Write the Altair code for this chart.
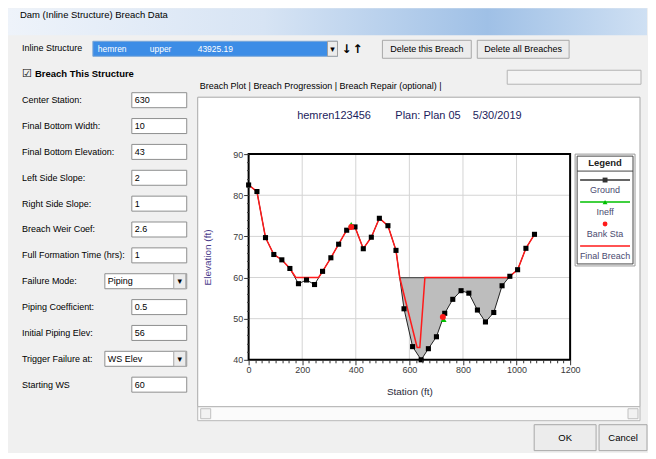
import altair as alt
import numpy as np
import pandas as pd

# ---------------- data ----------------
ground_station = [0, 31, 63, 94, 124, 154, 186, 216, 246, 276, 307, 336, 366, 397,
                  428, 458, 488, 520, 550, 580, 612, 644, 671, 701, 732, 762, 793,
                  822, 854, 884, 915, 946, 975, 1004, 1035, 1067]
ground_elev = [82.5, 80.9, 69.7, 65.6, 64.3, 62.2, 58.5, 59.4, 58.3, 61.5, 64.8, 68.1,
               71.5, 72.3, 67.0, 69.8, 74.4, 72.6, 66.6, 52.4, 43.2, 40.0, 42.7, 45.6,
               51.3, 54.7, 56.8, 56.2, 52.1, 49.2, 51.5, 58.0, 60.3, 61.9, 67.1, 70.5]

breach_station = [0, 31, 63, 94, 124, 154, 176, 261, 276, 307, 336, 366, 397, 428, 458,
                  488, 520, 550, 564, 629, 639, 658, 970, 975, 1004, 1035, 1067]
breach_elev = [82.5, 80.9, 69.7, 65.6, 64.3, 62.2, 60, 60, 61.5, 64.8, 68.1, 71.5, 72.3,
               67.0, 69.8, 74.4, 72.6, 66.6, 60, 43, 43, 60, 60, 60.3, 61.9, 67.1, 70.5]

bank_station = [383, 725]
bank_elev = [72.3, 50.4]
ineff_station = [383, 728]
ineff_elev = [72.9, 49.8]

weir_elev = 60          # starting WS / top of breach opening
fill_from_station = 500  # the shaded opening lies right of this station

x_ticks = list(range(0, 1201, 25))
y_ticks = list(range(40, 91, 2))
x_grid = [200, 400, 600, 800, 1000]
y_grid = [50, 60, 70, 80]

legend_names = ["Ground", "Ineff", "Bank Sta", "Final Breach"]

form_labels = ["Center Station:", "Final Bottom Width:", "Final Bottom Elevation:",
               "Left Side Slope:", "Right Side Slope:", "Breach Weir Coef:",
               "Full Formation Time (hrs):", "Failure Mode:", "Piping Coefficient:",
               "Initial Piping Elev:", "Trigger Failure at:", "Starting WS"]
form_values = ["630", "10", "43", "2", "1", "2.6", "1", "Piping", "0.5", "56",
               "WS Elev", "60"]
form_kinds = ["text", "text", "text", "text", "text", "text", "text", "dropdown",
              "text", "text", "dropdown", "text"]

plot_title = "hemren123456" + "\u00a0" * 8 + "Plan: Plan 05" + "\u00a0" * 4 + "5/30/2019"

# ---------------- styles ----------------
UI = "Liberation Sans, Arial, sans-serif"
RED = "#ff1a1a"
GREEN = "#00c000"
ONE = pd.DataFrame({"k": [0]})


def txt(x, y, s, size=9, weight="normal", color="black", align="left", font=UI):
    return alt.Chart(ONE).mark_text(text=s, fontSize=size, fontWeight=weight, color=color,
                                    align=align, baseline="middle", font=font).encode(
        x=alt.value(x), y=alt.value(y))


def box(x1, y1, x2, y2, fill="white", stroke="#a0a0a0", sw=1, fill_opacity=1):
    return alt.Chart(ONE).mark_rect(fill=fill, stroke=stroke, strokeWidth=sw,
                                    fillOpacity=fill_opacity).encode(
        x=alt.value(x1), x2=alt.value(x2), y=alt.value(y1), y2=alt.value(y2))


# ---------------- header ----------------
titlebar_fill = alt.Gradient(gradient="linear", x1=0, x2=1, y1=0, y2=0, stops=[
    alt.GradientStop(color="#eef3fa", offset=0),
    alt.GradientStop(color="#d7e4f4", offset=0.4),
    alt.GradientStop(color="#9fc0e6", offset=0.75),
    alt.GradientStop(color="#cfe0f3", offset=1)])
header = alt.layer(
    alt.Chart(ONE).mark_rect(fill=titlebar_fill).encode(
        x=alt.value(0), x2=alt.value(640), y=alt.value(0), y2=alt.value(27)),
    txt(12, 7, "Dam (Inline Structure) Breach Data", size=9.5),
    txt(14, 40, "Inline Structure", size=9),
    box(85, 33, 330, 48, fill="#3d8de6", stroke="#7aa7d8"),
    txt(90, 40.5, "hemren", size=8.5, color="white"),
    txt(142, 40.5, "upper", size=8.5, color="white"),
    txt(190, 40.5, "43925.19", size=8.5, color="white"),
    box(320, 33, 330, 48, fill="#ececec", stroke="#a0a0a0"),
    txt(325, 41, "\u25be", size=9, align="center", font="DejaVu Sans"),
    txt(339, 41, "\u2193", size=12, weight="bold", align="center", font="DejaVu Sans"),
    txt(350, 41, "\u2191", size=12, weight="bold", align="center", font="DejaVu Sans"),
    box(375, 32, 464, 50, fill="#ececec", stroke="#a8a8a8"),
    txt(419.5, 41, "Delete this Breach", size=9, align="center"),
    box(470, 32, 562, 50, fill="#ececec", stroke="#a8a8a8"),
    txt(516, 41, "Delete all Breaches", size=9, align="center"),
    box(500, 62, 634, 76, fill="#f4f4f4", stroke="#b4b4b4"),
    txt(14, 66, "\u2611", size=11, font="DejaVu Sans"),
    txt(27, 66, "Breach This Structure", size=9.5, weight="bold"),
    txt(192, 77.5, "Breach Plot | Breach Progression | Breach Repair (optional) |", size=9),
).properties(width=640, height=83)

# ---------------- form ----------------
# the form rows start above the panel's own origin, which is aligned with the plot area
form_df = pd.DataFrame({"label": form_labels, "value": form_values, "kind": form_kinds,
                        "row": list(range(len(form_labels)))})
fy = alt.Scale(domain=[2.085, 11.853], reverse=True, nice=False, zero=False)
FY = alt.Y("row:Q", scale=fy, axis=None)
fbase = alt.Chart(form_df).transform_calculate(lo="datum.row - 0.29", hi="datum.row + 0.29")
form = alt.layer(
    fbase.mark_text(align="left", baseline="middle", fontSize=9, font=UI, color="black").encode(
        x=alt.value(14), y=FY, text="label:N"),
    fbase.transform_filter("datum.kind == 'text'").mark_rect(
        fill="white", stroke="#8e8f8f", strokeWidth=1).encode(
        x=alt.value(124), x2=alt.value(179), y=alt.Y("lo:Q", scale=fy, axis=None), y2="hi:Q"),
    fbase.transform_filter("datum.kind == 'dropdown'").mark_rect(
        fill="white", stroke="#8e8f8f", strokeWidth=1).encode(
        x=alt.value(97), x2=alt.value(179), y=alt.Y("lo:Q", scale=fy, axis=None), y2="hi:Q"),
    fbase.transform_filter("datum.kind == 'dropdown'").mark_rect(
        fill="#ececec", stroke="#a8a8a8", strokeWidth=1).encode(
        x=alt.value(166), x2=alt.value(178), y=alt.Y("lo:Q", scale=fy, axis=None), y2="hi:Q"),
    fbase.transform_filter("datum.kind == 'dropdown'").mark_text(
        text="\u25be", fontSize=9, font="DejaVu Sans", baseline="middle").encode(
        x=alt.value(172), y=FY),
    fbase.transform_filter("datum.kind == 'text'").mark_text(
        align="left", baseline="middle", fontSize=9, font=UI, color="black").encode(
        x=alt.value(127), y=FY, text="value:N"),
    fbase.transform_filter("datum.kind == 'dropdown'").mark_text(
        align="left", baseline="middle", fontSize=9, font=UI, color="black").encode(
        x=alt.value(100), y=FY, text="value:N"),
).properties(width=180, height=253)

# ---------------- breach plot ----------------
st = np.array(ground_station, float)
el = np.array(ground_elev, float)
idx = [i for i in range(len(st)) if el[i] < weir_elev and st[i] > fill_from_station]
i0, i1 = idx[0], idx[-1]


def crossing(a, b):
    t = (weir_elev - el[a]) / (el[b] - el[a])
    return st[a] + t * (st[b] - st[a])


fill_df = pd.DataFrame({
    "station": [crossing(i0 - 1, i0)] + list(st[i0:i1 + 1]) + [crossing(i1, i1 + 1)],
    "elev": [weir_elev] + list(el[i0:i1 + 1]) + [weir_elev]})
fill_df["top"] = weir_elev
fill_top_df = pd.DataFrame({"station": [fill_df["station"].iloc[0]],
                            "station2": [fill_df["station"].iloc[-1]],
                            "elev": [weir_elev]})

ground_df = pd.DataFrame({"station": ground_station, "elev": ground_elev})
breach_df = pd.DataFrame({"station": breach_station, "elev": breach_elev,
                          "order": list(range(len(breach_station)))})
bank_df = pd.DataFrame({"station": bank_station, "elev": bank_elev})
ineff_df = pd.DataFrame({"station": ineff_station, "elev": ineff_elev})
xgrid_df = pd.DataFrame({"station": x_grid})
ygrid_df = pd.DataFrame({"elev": y_grid})

x_axis = alt.Axis(values=x_ticks, format="d",
                  labelExpr="datum.value % 200 === 0 ? datum.label : ''",
                  labelOverlap=False, labelFlush=False, grid=False, domain=False,
                  tickSize={"condition": {"test": "datum.value % 200 === 0", "value": 5},
                            "value": 3},
                  tickColor="#333333", labelColor="#3a3a3a", labelFontSize=9, labelFont=UI,
                  labelPadding=1, titleFont=UI, titleFontSize=10, titleFontWeight="normal",
                  titleColor="#2a2a3a", titlePadding=12, zindex=1)
y_axis = alt.Axis(values=y_ticks, format="d",
                  labelExpr="datum.value % 10 === 0 ? datum.label : ''",
                  labelOverlap=False, labelFlush=False, grid=False, domain=False,
                  tickSize={"condition": {"test": "datum.value % 10 === 0", "value": 5},
                            "value": 2},
                  tickColor="#333333", labelColor="#3a3a3a", labelFontSize=9, labelFont=UI,
                  labelPadding=1, titleFont=UI, titleFontSize=10, titleFontWeight="normal",
                  titleColor="#4a3c8c", titlePadding=20, zindex=1)
sx = alt.Scale(domain=[0, 1200], nice=False, zero=False)
sy = alt.Scale(domain=[40, 90], nice=False, zero=False)
X = alt.X("station:Q", scale=sx, axis=x_axis, title="Station (ft)")
Y = alt.Y("elev:Q", scale=sy, axis=y_axis, title="Elevation (ft)")

plot = alt.layer(
    box(-51, -57, 392, 253, fill="white", stroke="#a8a8a8"),
    box(-51, 253, 392, 267, fill="#fbfbfb", stroke="#b8b8b8"),
    box(-48, 255, -38, 265, fill="#f2f2f2", stroke="#c0c0c0"),
    box(380, 255, 390, 265, fill="#f2f2f2", stroke="#c0c0c0"),
    alt.Chart(xgrid_df).mark_rule(color="#d4d4d4", strokeWidth=1).encode(x=X),
    alt.Chart(ygrid_df).mark_rule(color="#d4d4d4", strokeWidth=1).encode(y=Y),
    alt.Chart(fill_df).mark_area(color="#bdbdbd", opacity=1).encode(
        x=X, y=Y, y2="top:Q"),
    alt.Chart(fill_top_df).mark_rule(color="#555555", strokeWidth=1.2).encode(
        x=X, x2="station2:Q", y=Y),
    alt.Chart(ground_df).mark_line(color="#222222", strokeWidth=1).encode(x=X, y=Y),
    alt.Chart(breach_df).mark_line(color=RED, strokeWidth=1.5).encode(
        x=X, y=Y, order="order:Q"),
    alt.Chart(ground_df).mark_point(shape="square", filled=True, size=26, color="black",
                                    opacity=1).encode(x=X, y=Y),
    alt.Chart(ineff_df).mark_point(shape="triangle-up", filled=True, size=34, color=GREEN,
                                   opacity=1).encode(x=X, y=Y),
    alt.Chart(bank_df).mark_circle(size=36, color=RED, opacity=1).encode(x=X, y=Y),
    box(0, 0, 322, 206, fill="white", stroke="black", sw=2, fill_opacity=0),
).properties(
    width=322, height=206,
    title=alt.TitleParams(text=plot_title, fontSize=11, font=UI, color="#1c1c5c",
                          fontWeight="normal", anchor="middle", frame="group", offset=-24))

# ---------------- legend panel ----------------
legend_df = pd.DataFrame({"name": legend_names, "i": list(range(len(legend_names)))})
ly = alt.Scale(domain=[-1.18, 3.91], reverse=True, nice=False, zero=False)
LY = alt.Y("i:Q", scale=ly, axis=None)
lcolor = alt.Scale(domain=legend_names, range=["#333333", GREEN, RED, RED])
lbase = alt.Chart(legend_df)
legend_panel = alt.layer(
    box(0, 0, 60, 112, fill="white", stroke="#9a9a9a"),
    box(2, 2, 58, 110, fill="white", stroke="#444444", fill_opacity=0),
    txt(30, 9, "Legend", size=9.5, weight="bold", align="center", color="#222222"),
    alt.Chart(ONE).mark_rule(color="#444444").encode(
        x=alt.value(2), x2=alt.value(58), y=alt.value(17)),
    lbase.transform_filter("datum.name != 'Bank Sta'").mark_rule(strokeWidth=1.5).encode(
        x=alt.value(5), x2=alt.value(55), y=LY,
        color=alt.Color("name:N", scale=lcolor, legend=None)),
    lbase.transform_filter("datum.name != 'Final Breach'").mark_point(
        filled=True, size=24, opacity=1).encode(
        x=alt.value(30), y=LY,
        color=alt.Color("name:N", scale=lcolor, legend=None),
        shape=alt.Shape("name:N", scale=alt.Scale(
            domain=["Ground", "Ineff", "Bank Sta"],
            range=["square", "triangle-up", "circle"]), legend=None)),
    lbase.mark_text(fontSize=9, font=UI, dy=10, baseline="middle", color="#4a4a70").encode(
        x=alt.value(30), y=LY, text="name:N"),
).properties(width=60, height=112)

inner = alt.hconcat(plot, legend_panel, spacing=5, bounds="flush")

body = alt.hconcat(form, inner, spacing=9)

# ---------------- footer ----------------
footer = alt.layer(
    box(527, 3, 589, 29, fill="#ececec", stroke="#a8a8a8"),
    txt(558, 16, "OK", size=9.5, align="center"),
    box(592, 3, 640, 29, fill="#ececec", stroke="#a8a8a8"),
    txt(616, 16, "Cancel", size=9.5, align="center"),
).properties(width=640, height=31)

chart = alt.vconcat(header, body, footer, spacing=0).properties(
    padding={"left": 0, "top": 0, "right": 0, "bottom": 0},
    background="#f0f0f0",
).configure_view(strokeWidth=0)

chart.save("out.html", embed_options={"renderer": "svg", "actions": False})
